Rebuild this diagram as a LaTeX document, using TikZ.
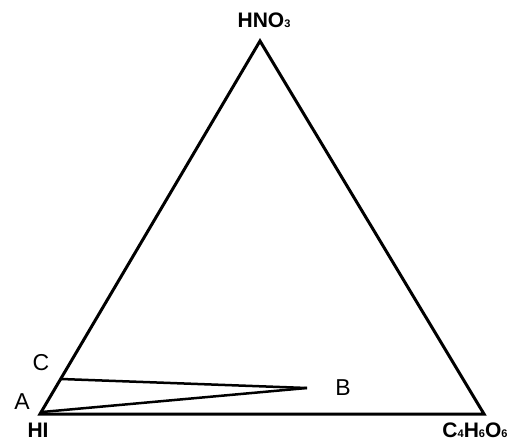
\documentclass[tikz,border=0pt]{standalone}
\usepackage{fontspec}
\setmainfont{Liberation Sans}
\usetikzlibrary{positioning}
\newcommand{\sbs}[1]{{\fontsize{11}{11}\selectfont #1}}

\begin{document}
\begin{tikzpicture}[x=1pt, y=-1pt,
    vertex/.style={font=\fontsize{21}{21}\selectfont\bfseries, inner sep=0pt},
    pointlabel/.style={font=\fontsize{23}{23}\selectfont, inner sep=0pt},
    side/.style={line width=3pt},
    tie/.style={line width=2.5pt}
]
\useasboundingbox (0,0) rectangle (512,441);
\coordinate (hi) at (40,414);
\coordinate (hno) at (260,41);
\coordinate (tart) at (484,414);
\coordinate (a) at (42,412);
\coordinate (c) at (61,379);
\coordinate (b) at (307,388);

\draw[side] (hi) -- (hno) -- (tart) -- cycle;
\draw[tie] (c) -- (b);
\draw[tie] (a) -- (b);

\node[vertex] (hnolabel) at (264,20) {HNO\sbs{3}};
\node[vertex] (hilabel) at (38,430) {HI};
\node[vertex] (tartlabel) at (475,430) {C\sbs{4}H\sbs{6}O\sbs{6}};
\node[pointlabel] (alabel) at (22,402) {A};
\node[pointlabel] (clabel) at (41,363) {C};
\node[pointlabel] (blabel) at (343,388) {B};
\end{tikzpicture}
\end{document}
